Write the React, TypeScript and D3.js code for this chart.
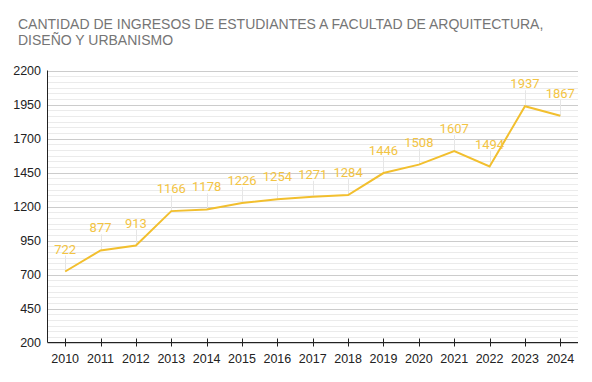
import React from "react";
import * as d3 from "d3";

const years = ["2010","2011","2012","2013","2014","2015","2016","2017","2018","2019","2020","2021","2022","2023","2024"];
const ingresos = [722, 877, 913, 1166, 1178, 1226, 1254, 1271, 1284, 1446, 1508, 1607, 1494, 1937, 1867];
const yTicks = [200, 450, 700, 950, 1200, 1450, 1700, 1950, 2200];
const titleLines = ["CANTIDAD DE INGRESOS DE ESTUDIANTES A FACULTAD DE ARQUITECTURA,", "DISEÑO Y URBANISMO"];

const W = 592, H = 382;
const L = 47.5, R = 578, T = 70.5, B = 342.5;
const LINE = "#F2BF2E";
const LABEL = "#F3C443";

export default function App() {
  const x = d3.scaleBand<string>().domain(years).range([L, R]).padding(0);
  const y = d3.scaleLinear().domain([200, 2200]).range([B, T]);
  const cx = (d: string) => (x(d) ?? 0) + x.bandwidth() / 2;
  const minor: number[] = [];
  for (let i = 0; i < yTicks.length - 1; i++) {
    for (let k = 1; k < 6; k++) minor.push(yTicks[i] + (k * 250) / 6);
  }
  const line = d3.line<number>().x((_, i) => cx(years[i])).y((v) => y(v));
  return (
    <svg width={W} height={H} style={{ position: "absolute", left: 0, top: 0, background: "#fff" }}
      fontFamily="'Liberation Sans', Arial, sans-serif">
      {titleLines.map((t, i) => (
        <text key={i} x={18} y={29 + i * 16} fontSize={14} fill="#757575">{t}</text>
      ))}
      {minor.map((v, i) => (
        <line key={"m" + i} x1={L} x2={R} y1={Math.round(y(v)) + 0.5} y2={Math.round(y(v)) + 0.5} stroke="#ebebeb" />
      ))}
      {yTicks.map((v) => (
        <line key={"g" + v} x1={L} x2={R} y1={Math.round(y(v)) + 0.5} y2={Math.round(y(v)) + 0.5} stroke="#cccccc" />
      ))}
      {yTicks.map((v) => (
        <text key={"t" + v} x={41} y={y(v) + 4.5} fontSize={12.5} textAnchor="end" fill="#222">{v}</text>
      ))}
      {ingresos.map((v, i) => (
        <line key={"s" + i} x1={Math.round(cx(years[i])) + 0.5} x2={Math.round(cx(years[i])) + 0.5}
          y1={y(v) - 16} y2={y(v)} stroke="#e6e6e6" />
      ))}
      <path d={line(ingresos) ?? ""} fill="none" stroke={LINE} strokeWidth={2} />
      {ingresos.map((v, i) => (
        <text key={"a" + i} x={cx(years[i])} y={y(v) - 18} fontSize={13} textAnchor="middle"
          fill={LABEL} fontFamily="Roboto, sans-serif">{v}</text>
      ))}
      <line x1={L} x2={L} y1={T} y2={B} stroke="#222" />
      <line x1={L} x2={R} y1={B} y2={B} stroke="#222" />
      {years.map((d) => (
        <g key={"x" + d}>
          <line x1={Math.round(cx(d)) + 0.5} x2={Math.round(cx(d)) + 0.5} y1={B - 4} y2={B + 4} stroke="#222" />
          <text x={cx(d)} y={B + 20} fontSize={12.5} textAnchor="middle" fill="#222">{d}</text>
        </g>
      ))}
    </svg>
  );
}
